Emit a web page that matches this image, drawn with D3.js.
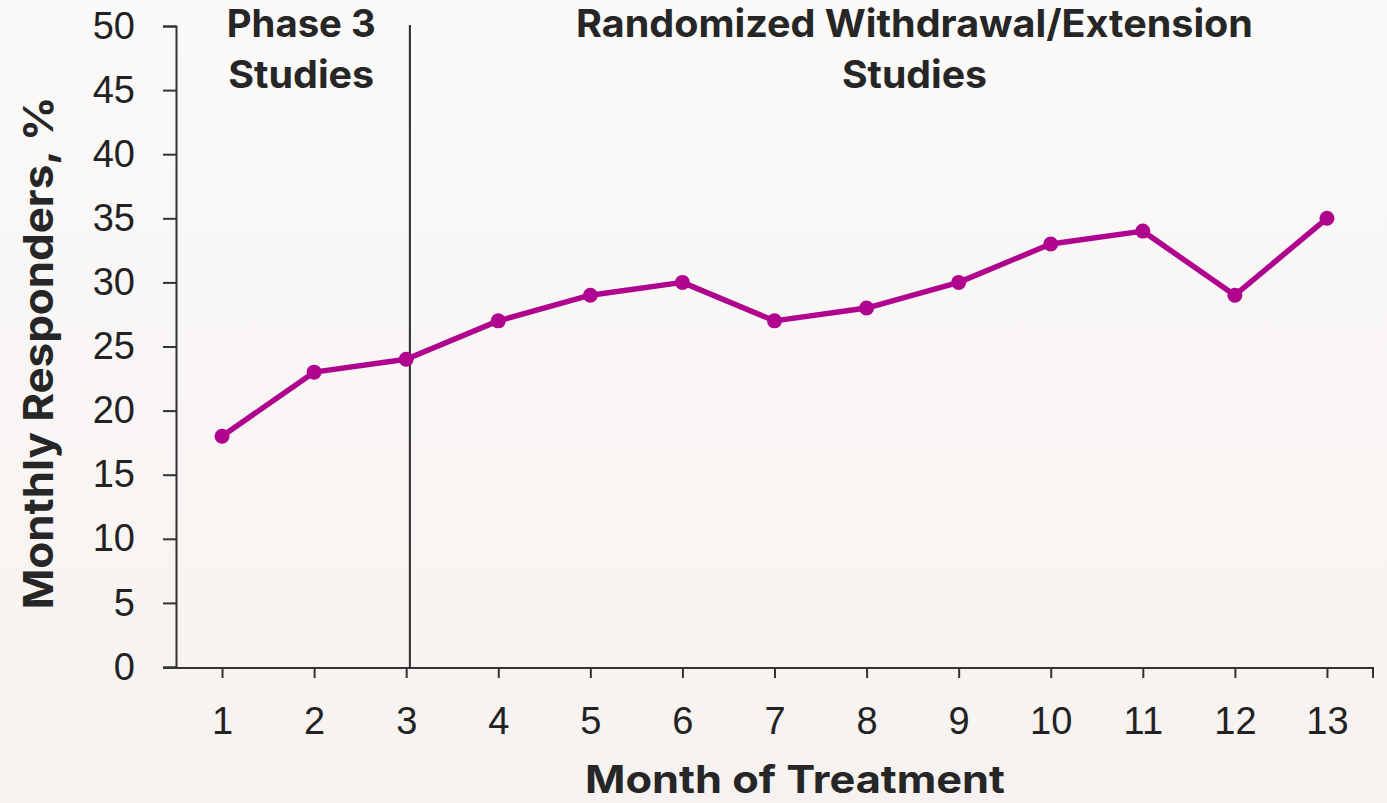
<!DOCTYPE html>
<html>
<head>
<meta charset="utf-8">
<script src="https://cdn.jsdelivr.net/npm/d3@7"></script>
<style>
  html, body { margin: 0; padding: 0; }
  body { width: 1387px; height: 803px; overflow: hidden; }
  svg { display: block; }
</style>
</head>
<body>
<svg id="chart" width="1387" height="803"></svg>
<script>
// Monthly responder rates by month of treatment
const months = [1, 2, 3, 4, 5, 6, 7, 8, 9, 10, 11, 12, 13];
const responders = [18, 23, 24, 27, 29, 30, 27, 28, 30, 33, 34, 29, 35];
const yTicks = [0, 5, 10, 15, 20, 25, 30, 35, 40, 45, 50];
const phaseDivider = 3.04; // boundary between phase 3 and withdrawal/extension periods
const sectionLabels = [
  { lines: ["Phase 3", "Studies"], at: 1.86 },
  { lines: ["Randomized Withdrawal/Extension", "Studies"], at: 8.52 }
];

(function draw() {
  const W = 1387, H = 803;
  const plotLeft = 176, plotRight = 1373, plotTop = 26, plotBottom = 667;
  const svg = d3.select("#chart");
  const ink = "#262626";

  // background wash
  const defs = svg.append("defs");
  const grad = defs.append("linearGradient").attr("id", "bg")
    .attr("x1", 0).attr("y1", 0).attr("x2", 0).attr("y2", 1);
  grad.append("stop").attr("offset", "0%").attr("stop-color", "#fbfaf9");
  grad.append("stop").attr("offset", "100%").attr("stop-color", "#f6f2f0");
  svg.append("rect").attr("width", W).attr("height", H).attr("fill", "url(#bg)");

  const x = d3.scaleLinear().domain([0.5, 13.5]).range([plotLeft, plotRight]);
  const y = d3.scaleLinear().domain([0, 50]).range([plotBottom, plotTop]);

  const axisColor = "#333";
  const tickFont = "'Liberation Sans', Arial, sans-serif";

  // y axis
  const yAxis = svg.append("g").attr("transform", `translate(${plotLeft},0)`)
    .call(d3.axisLeft(y).tickValues(yTicks).tickSize(13).tickPadding(28));
  yAxis.select(".domain").attr("stroke", axisColor).attr("stroke-width", 2);
  yAxis.selectAll(".tick line").attr("stroke", axisColor).attr("stroke-width", 2);
  yAxis.selectAll(".tick text")
    .attr("font-family", tickFont)
    .attr("font-size", 38).attr("fill", "#222");

  // x axis with tick marks at month centres plus an end cap
  const xAxis = svg.append("g").attr("transform", `translate(0,${plotBottom + 1})`)
    .call(d3.axisBottom(x).tickValues(months).tickSize(10).tickSizeOuter(0)
      .tickPadding(29).tickFormat(d3.format("d")));
  xAxis.select(".domain").attr("stroke", axisColor).attr("stroke-width", 2)
    .attr("d", `M${plotLeft - 13},0H${plotRight}V10`);
  xAxis.selectAll(".tick line").attr("stroke", axisColor).attr("stroke-width", 2);
  xAxis.selectAll(".tick text")
    .attr("font-family", tickFont)
    .attr("font-size", 38).attr("fill", "#222");

  // phase divider
  svg.append("line")
    .attr("x1", x(phaseDivider)).attr("x2", x(phaseDivider))
    .attr("y1", plotTop - 1).attr("y2", plotBottom + 1)
    .attr("stroke", "#2a2a2a").attr("stroke-width", 2);

  // section headings
  const headWidths = [[149, 146], [677, 145]];
  sectionLabels.forEach((s, i) => {
    const t = svg.append("text")
      .attr("text-anchor", "middle")
      .attr("font-family", "Inter, Roboto, 'Liberation Sans', sans-serif")
      .attr("font-weight", 700)
      .attr("font-size", 38)
      .attr("fill", ink);
    s.lines.forEach((ln, j) => {
      t.append("tspan").attr("x", x(s.at)).attr("y", 37 + j * 51).text(ln)
        .attr("textLength", headWidths[i][j]).attr("lengthAdjust", "spacingAndGlyphs");
    });
  });

  // responder series
  const color = "#b0048f";
  const pts = months.map((m, i) => [m, responders[i]]);
  svg.append("path")
    .datum(pts)
    .attr("fill", "none").attr("stroke", color).attr("stroke-width", 5.5)
    .attr("stroke-linejoin", "round")
    .attr("d", d3.line().x(d => x(d[0])).y(d => y(d[1])));
  svg.append("g").selectAll("circle").data(pts).join("circle")
    .attr("cx", d => x(d[0])).attr("cy", d => y(d[1])).attr("r", 7.5)
    .attr("fill", color);

  // axis titles
  svg.append("text")
    .attr("x", 795).attr("y", 793)
    .attr("text-anchor", "middle")
    .attr("font-family", "Inter, Roboto, sans-serif").attr("font-weight", 700)
    .attr("font-size", 38).attr("fill", ink)
    .attr("textLength", 420).attr("lengthAdjust", "spacingAndGlyphs")
    .text("Month of Treatment");
  svg.append("text")
    .attr("transform", `translate(53,353) rotate(-90)`)
    .attr("text-anchor", "middle")
    .attr("font-family", "Inter, Roboto, sans-serif").attr("font-weight", 700)
    .attr("font-size", 41).attr("fill", ink)
    .attr("textLength", 513).attr("lengthAdjust", "spacingAndGlyphs")
    .text("Monthly Responders, %");
})();
</script>
</body>
</html>
